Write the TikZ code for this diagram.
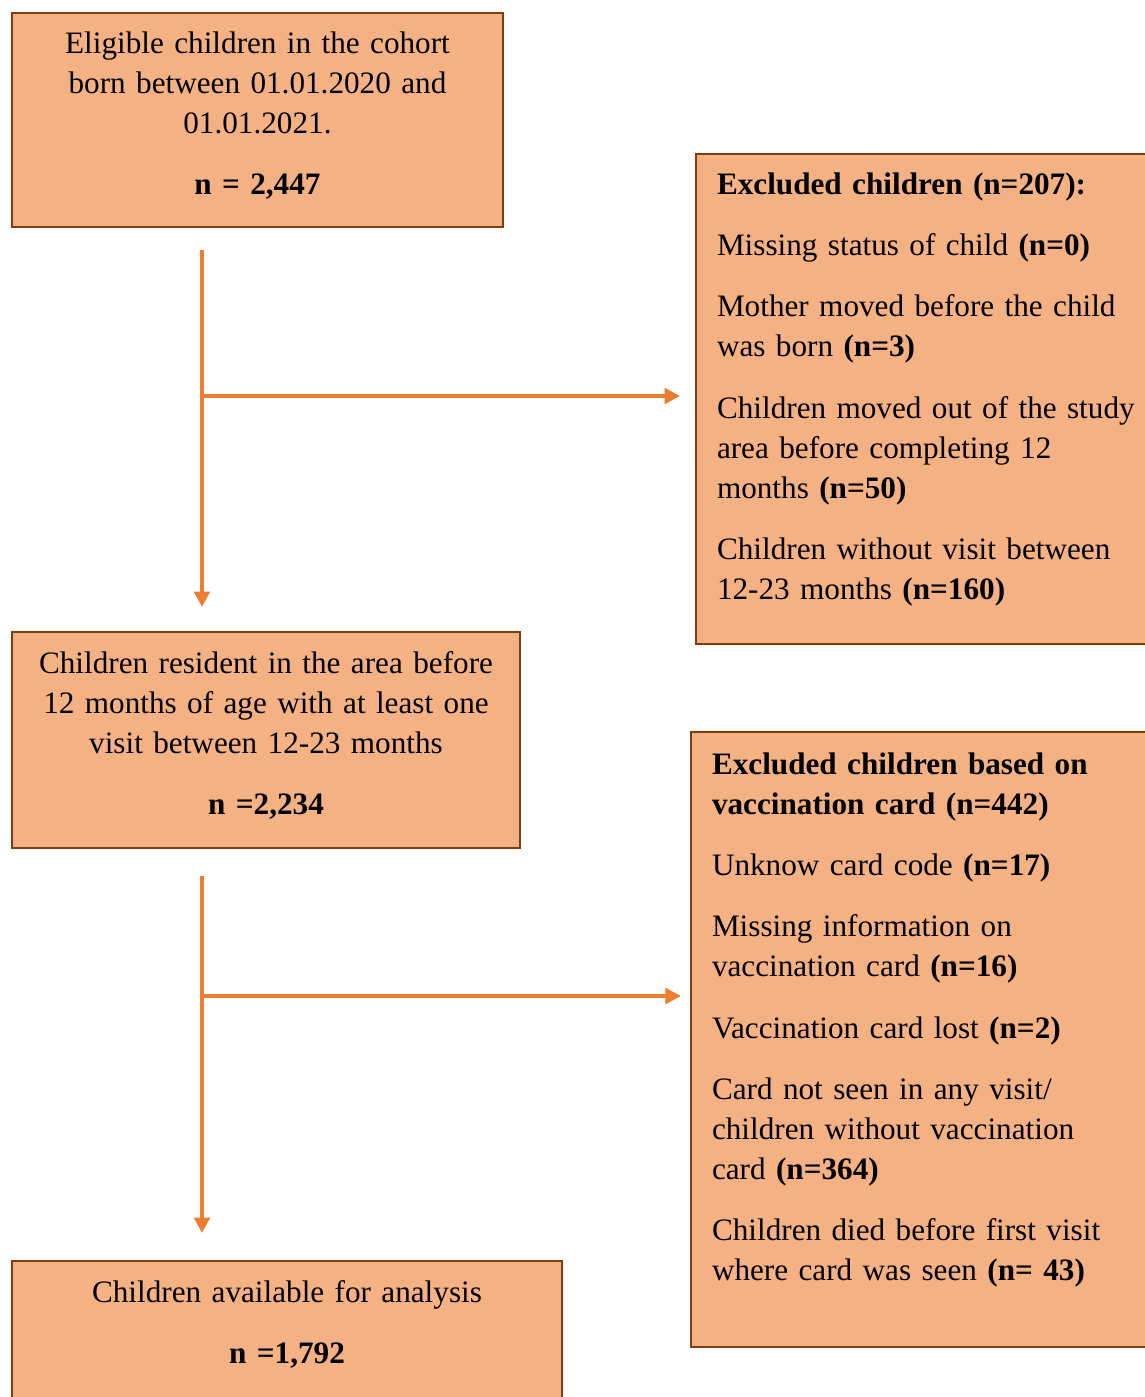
\documentclass[tikz,border=0pt]{standalone}
\usepackage{fontspec}
\setmainfont{Liberation Serif}
\usepackage{tikz}
\usetikzlibrary{positioning,arrows.meta,calc}
\definecolor{boxfill}{RGB}{244,177,131}
\definecolor{boxline}{RGB}{132,60,12}
\definecolor{arrline}{RGB}{237,125,49}

\begin{document}
\begin{tikzpicture}[x=0.375pt,y=-0.375pt,>={Triangle[length=5.8pt,width=5.8pt]},
  flowbox/.style={draw=boxline,fill=boxfill,line width=0.75pt,anchor=north west,inner ysep=0pt,
    font=\fontsize{11.7pt}{15pt}\selectfont},
  flowarr/.style={->,draw=arrline,line width=1.4pt}]
  \useasboundingbox (0,0) rectangle (1145,1397);
  \node[flowbox,align=center,inner xsep=6pt,text width=172.125pt,text height=15pt,text depth=65.25pt] (elig) at (11,12)
    {Eligible children in the cohort\\ born between 01.01.2020 and\\ 01.01.2021.\\[8pt] \textbf{n = 2,447}};
  \node[flowbox,align=left,inner xsep=7.875pt,text width=175pt,text height=15pt,text depth=168.75pt] (excl) at (695,153)
    {\textbf{Excluded children (n=207):}\\[8pt]
     Missing status of child \textbf{(n=0)}\\[8pt]
     Mother moved before the child\\ was born \textbf{(n=3)}\\[8pt]
     Children moved out of the study\\ area before completing 12\\ months \textbf{(n=50)}\\[8pt]
     Children without visit between\\ 12-23 months \textbf{(n=160)}};
  \node[flowbox,align=center,inner xsep=6pt,text width=178.5pt,text height=15.375pt,text depth=65.625pt] (resid) at (11,631)
    {Children resident in the area before\\ 12 months of age with at least one\\ visit between 12-23 months\\[8pt] \textbf{n =2,234}};
  \node[flowbox,align=left,inner xsep=7.875pt,text width=175pt,text height=15.75pt,text depth=214.875pt] (card) at (690,731)
    {\textbf{Excluded children based on}\\ \textbf{vaccination card (n=442)}\\[8pt]
     Unknow card code \textbf{(n=17)}\\[8pt]
     Missing information on\\ vaccination card \textbf{(n=16)}\\[8pt]
     Vaccination card lost \textbf{(n=2)}\\[8pt]
     Card not seen in any visit/\\ children without vaccination\\ card \textbf{(n=364)}\\[8pt]
     Children died before first visit\\ where card was seen \textbf{(n= 43)}};
  \node[flowbox,align=center,inner xsep=6pt,text width=194.25pt,text height=15.375pt,text depth=44.625pt] (avail) at (11,1260)
    {Children available for analysis\\[8pt] \textbf{n =1,792}};
  \coordinate (split1) at (202,396);
  \coordinate (split2) at (202,996);
  \draw[flowarr,shorten <=8.25pt,shorten >=9pt] (split1 |- elig.south) -- (split1 |- resid.north);
  \draw[flowarr,shorten >=5.6pt] (split1) -- (split1 -| excl.west);
  \draw[flowarr,shorten <=10.1pt,shorten >=10.1pt] (split2 |- resid.south) -- (split2 |- avail.north);
  \draw[flowarr,shorten >=3.4pt] (split2) -- (split2 -| card.west);
\end{tikzpicture}
\end{document}
